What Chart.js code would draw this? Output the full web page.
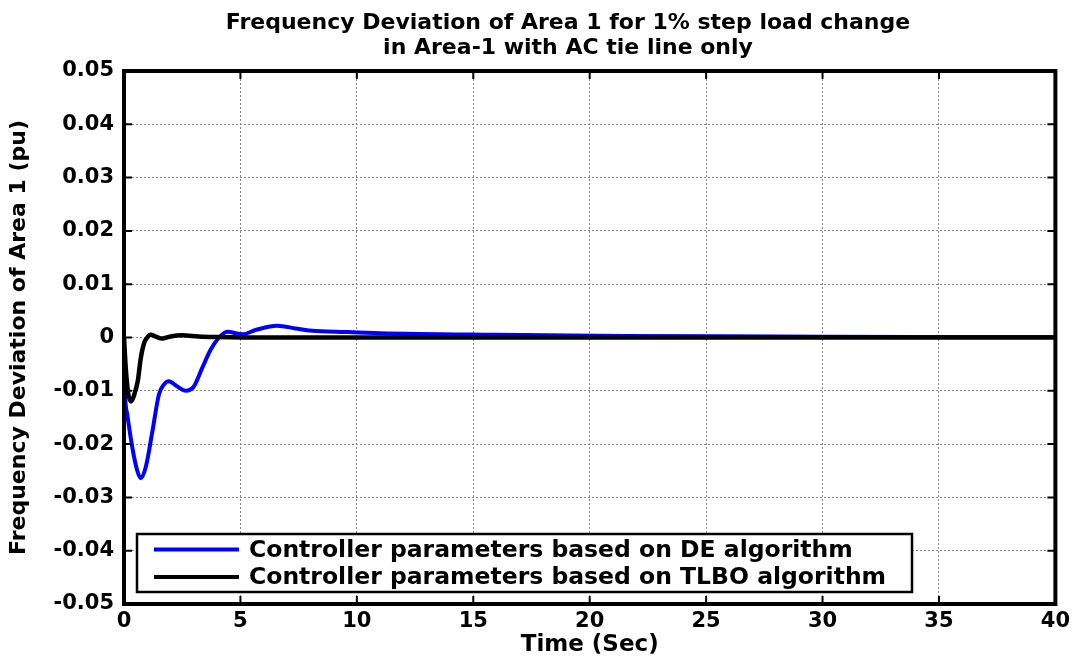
<!DOCTYPE html>
<html>
<head>
<meta charset="utf-8">
<script src="https://cdn.jsdelivr.net/npm/chart.js@4/dist/chart.umd.min.js"></script>
<style>
  html, body { margin: 0; padding: 0; background: #fff; }
  #wrap { width: 1075px; height: 658px; }
</style>
</head>
<body>
<div id="wrap"><canvas id="freqChart" width="1075" height="658"></canvas></div>
<script>
const titleLines = [
  "Frequency Deviation of Area 1 for 1% step load change",
  "in Area-1 with AC tie line only"
];
const xTitle = "Time (Sec)";
const yTitle = "Frequency Deviation of Area 1 (pu)";
const xTicks = [0, 5, 10, 15, 20, 25, 30, 35, 40];
const yTicks = [-0.05, -0.04, -0.03, -0.02, -0.01, 0, 0.01, 0.02, 0.03, 0.04, 0.05];

// DE tuned controller
const deLabel = "Controller parameters based on DE algorithm";
const deTime = [0, 0.04, 0.14, 0.36, 0.57, 0.72, 0.93, 1.22, 1.5, 1.72, 1.93, 2.29, 2.65, 3.0, 3.36, 3.72, 4.08, 4.43, 5.08, 5.65, 6.58, 7.37, 7.94, 9.1, 11, 16, 21.4, 28, 34, 40];
const deFreq = [0, -0.0100, -0.0144, -0.0207, -0.0250, -0.0264, -0.0244, -0.0176, -0.0107, -0.0088, -0.0082, -0.0092, -0.0100, -0.0092, -0.0057, -0.0023, 0, 0.0011, 0.0006, 0.0014, 0.0022, 0.0017, 0.0013, 0.0011, 0.0008, 0.0005, 0.0003, 0.0002, 0.0001, 0.0001];

// TLBO tuned controller
const tlboLabel = "Controller parameters based on TLBO algorithm";
const tlboTime = [0, 0.08, 0.18, 0.3, 0.42, 0.59, 0.72, 0.86, 1.0, 1.14, 1.4, 1.64, 2.0, 2.5, 3.2, 4.0, 6, 40];
const tlboFreq = [0, -0.0060, -0.0105, -0.0120, -0.0110, -0.0082, -0.0039, -0.0011, 0, 0.0005, 0.0001, -0.0002, 0.0002, 0.0004, 0.0002, 0.0001, 0, 0];

const toPoints = (xs, ys) => xs.map((x, i) => ({ x, y: ys[i] }));
const tickFont = { family: "'DejaVu Sans', sans-serif", size: 21, weight: "bold" };

const matlabLook = {
  id: "matlabLook",
  afterDatasetsDraw(chart) {
    const { ctx, chartArea: a, scales: { x, y } } = chart;
    ctx.save();
    ctx.strokeStyle = "#000";
    ctx.lineWidth = 2;
    ctx.beginPath();
    xTicks.forEach((v) => {
      const px = x.getPixelForValue(v);
      ctx.moveTo(px, a.bottom); ctx.lineTo(px, a.bottom - 8);
      ctx.moveTo(px, a.top); ctx.lineTo(px, a.top + 8);
    });
    yTicks.forEach((v) => {
      const py = y.getPixelForValue(v);
      ctx.moveTo(a.left, py); ctx.lineTo(a.left + 8, py);
      ctx.moveTo(a.right, py); ctx.lineTo(a.right - 8, py);
    });
    ctx.stroke();
    ctx.lineWidth = 4;
    ctx.strokeRect(a.left, a.top, a.right - a.left, a.bottom - a.top);
    ctx.restore();
  },
  afterDraw(chart) {
    const { ctx, chartArea: a } = chart;
    ctx.save();
    // title
    ctx.fillStyle = "#000";
    ctx.textAlign = "center";
    ctx.textBaseline = "middle";
    ctx.font = "bold 22px 'DejaVu Sans', sans-serif";
    titleLines.forEach((line, i) => ctx.fillText(line, 568, 23 + i * 25));

    // legend box, bottom left inside the axes
    const box = { left: a.left + 13, top: 534, right: 912, bottom: 592 };
    ctx.fillStyle = "#fff";
    ctx.fillRect(box.left, box.top, box.right - box.left, box.bottom - box.top);
    ctx.lineWidth = 2.5;
    ctx.strokeStyle = "#000";
    ctx.strokeRect(box.left, box.top, box.right - box.left, box.bottom - box.top);
    ctx.textAlign = "left";
    ctx.font = "bold 23.5px 'DejaVu Sans', sans-serif";
    chart.data.datasets.forEach((ds, i) => {
      const rowY = 549.5 + i * 27.5;
      ctx.strokeStyle = ds.borderColor;
      ctx.lineWidth = 4;
      ctx.beginPath();
      ctx.moveTo(box.left + 17, rowY);
      ctx.lineTo(box.left + 102, rowY);
      ctx.stroke();
      ctx.fillStyle = "#000";
      ctx.fillText(ds.label, box.left + 112, rowY + 1);
    });
    ctx.restore();
  }
};

new Chart(document.getElementById("freqChart"), {
  type: "line",
  data: {
    datasets: [
      { label: deLabel, data: toPoints(deTime, deFreq), borderColor: "#0000ff", borderWidth: 4, order: 2 },
      { label: tlboLabel, data: toPoints(tlboTime, tlboFreq), borderColor: "#000000", borderWidth: 4.5, order: 1 }
    ]
  },
  options: {
    responsive: false,
    animation: false,
    layout: { padding: { top: 71, right: 17, left: 0, bottom: 0 } },
    elements: { point: { radius: 0 }, line: { cubicInterpolationMode: "monotone" } },
    plugins: { legend: { display: false }, title: { display: false }, tooltip: { enabled: false } },
    scales: {
      x: {
        type: "linear",
        min: 0,
        max: 40,
        afterBuildTicks: (scale) => { scale.ticks = xTicks.map((value) => ({ value })); },
        afterFit: (scale) => { scale.height = 54; },
        grid: { color: (c) => (c.tick && (c.tick.value === 0 || c.tick.value === 40) ? "rgba(0,0,0,0)" : "#8a8a8a"), lineWidth: 1, drawTicks: false },
        border: { display: false, dash: [2, 2] },
        ticks: { color: "#000", font: tickFont, padding: 5, maxRotation: 0 },
        title: { display: true, text: xTitle, color: "#000", font: { family: "'DejaVu Sans', sans-serif", size: 23, weight: "bold", lineHeight: 1.1 }, padding: { top: 0, bottom: 0 } }
      },
      y: {
        min: -0.05,
        max: 0.05,
        afterBuildTicks: (scale) => { scale.ticks = yTicks.map((value) => ({ value })); },
        afterFit: (scale) => { scale.width = 124; },
        grid: { color: (c) => (c.tick && Math.abs(Math.abs(c.tick.value) - 0.05) < 1e-9 ? "rgba(0,0,0,0)" : "#8a8a8a"), lineWidth: 1, drawTicks: false },
        border: { display: false, dash: [2, 2] },
        ticks: {
          color: "#000",
          font: tickFont,
          padding: 10,
          callback: (v) => String(Number(Number(v).toFixed(2)))
        },
        title: { display: true, text: yTitle, color: "#000", font: { family: "'DejaVu Sans', sans-serif", size: 22, weight: "bold", lineHeight: 1.2 }, padding: { top: 6, bottom: 0 } }
      }
    }
  },
  plugins: [matlabLook]
});
</script>
</body>
</html>
